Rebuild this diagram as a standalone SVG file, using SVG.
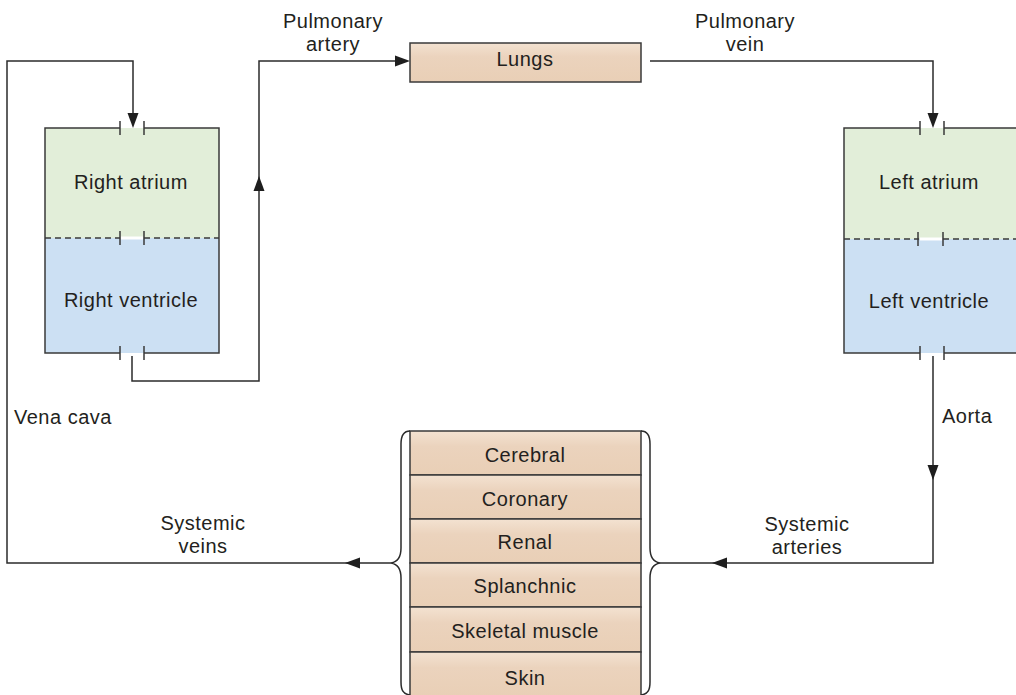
<svg xmlns="http://www.w3.org/2000/svg" xmlns:xlink="http://www.w3.org/1999/xlink" width="1016" height="695" viewBox="0 0 1016 695">
<style>
text{font-family:"Liberation Sans",Arial,"DejaVu Sans",sans-serif;font-size:20px;fill:#231f20;letter-spacing:0.5px}
.c{text-anchor:middle}
.ln{fill:none;stroke:#2b2b2b;stroke-width:1.5}
.bx{stroke:#3a3a3a;stroke-width:1.5}
.tk{stroke:#3a3a3a;stroke-width:1.5}
.ah{fill:#1e1e1e}
.dash{stroke:#3a3a3a;stroke-width:1.3;stroke-dasharray:6 4;fill:none}
</style>
<defs>
<linearGradient id="peach" x1="0" y1="0" x2="0" y2="1">
<stop offset="0" stop-color="#f3e2d1"/>
<stop offset="0.35" stop-color="#ebd3bd"/>
<stop offset="1" stop-color="#e9cfb6"/>
</linearGradient>
<path id="ah" d="M0,0 L-15,-5.5 L-15,5.5 Z"/>
</defs>
<rect width="1016" height="695" fill="#ffffff"/>

<g id="connectors">
<path class="ln" d="M391,563 H7 V61 H133 V116"/>
<path class="ln" d="M132,356 V381 H259 V61 H398"/>
<path class="ln" d="M650,61 H933 V116"/>
<path class="ln" d="M933,356 V563 H660"/>
<use href="#ah" class="ah" transform="translate(133,128) rotate(90)"/>
<use href="#ah" class="ah" transform="translate(259,176) rotate(-90)"/>
<use href="#ah" class="ah" transform="translate(410,61)"/>
<use href="#ah" class="ah" transform="translate(933,128) rotate(90)"/>
<use href="#ah" class="ah" transform="translate(933,480) rotate(90)"/>
<use href="#ah" class="ah" transform="translate(712,563) rotate(180)"/>
<use href="#ah" class="ah" transform="translate(345,563) rotate(180)"/>
</g>

<g id="right-heart">
<rect x="45" y="128" width="174" height="110" fill="#e2eed9"/>
<rect x="45" y="238" width="174" height="115" fill="#cce0f3"/>
<path class="bx" fill="none" d="M120,128 H45 V353 H120 M144,353 H219 V128 H144"/>
<path class="dash" d="M45,238 H120 M144,238 H219"/>
<line x1="121" y1="238" x2="143" y2="238" stroke="#ffffff" stroke-width="3"/>
<path class="tk" d="M120,121 V135 M144,121 V135 M120,231 V245 M144,231 V245 M120,346 V360 M144,346 V360"/>
<text class="c" x="131" y="189">Right atrium</text>
<text class="c" x="131" y="307">Right ventricle</text>
</g>

<g id="left-heart">
<rect x="844" y="128" width="174" height="111" fill="#e2eed9"/>
<rect x="844" y="239" width="174" height="114" fill="#cce0f3"/>
<path class="bx" fill="none" d="M920,128 H844 V353 H920 M944,353 H1018 M944,128 H1018"/>
<path class="dash" d="M844,239 H919 M943,239 H1018"/>
<line x1="920" y1="239" x2="942" y2="239" stroke="#ffffff" stroke-width="3"/>
<path class="tk" d="M920,121 V135 M944,121 V135 M918,232 V246 M943,232 V246 M920,346 V360 M944,346 V360"/>
<text class="c" x="929" y="189">Left atrium</text>
<text class="c" x="929" y="308">Left ventricle</text>
</g>

<g id="lungs">
<rect class="bx" x="410" y="43" width="231" height="39" fill="url(#peach)"/>
<text class="c" x="525" y="66">Lungs</text>
</g>

<g id="organs">
<rect class="bx" x="410" y="431" width="231" height="44" fill="url(#peach)"/>
<rect class="bx" x="410" y="475" width="231" height="44" fill="url(#peach)"/>
<rect class="bx" x="410" y="519" width="231" height="44" fill="url(#peach)"/>
<rect class="bx" x="410" y="563" width="231" height="44" fill="url(#peach)"/>
<rect class="bx" x="410" y="607" width="231" height="45" fill="url(#peach)"/>
<rect class="bx" x="410" y="652" width="231" height="45" fill="url(#peach)"/>
<text class="c" x="525" y="462">Cerebral</text>
<text class="c" x="525" y="506">Coronary</text>
<text class="c" x="525" y="549">Renal</text>
<text class="c" x="525" y="593">Splanchnic</text>
<text class="c" x="525" y="638">Skeletal muscle</text>
<text class="c" x="525" y="685">Skin</text>
</g>

<g id="braces" fill="none" stroke="#2b2b2b" stroke-width="1.5">
<path d="M410,431 C403,431 401,436 401,444 V548 C401,558 397,562 391,563 C397,564 401,568 401,578 V682 C401,690 403,694 410,695"/>
<path d="M641,431 C648,431 650,436 650,444 V548 C650,558 654,562 660,563 C654,564 650,568 650,578 V682 C650,690 648,694 641,695"/>
</g>

<g id="labels">
<text class="c" x="333" y="28">Pulmonary</text>
<text class="c" x="333" y="51">artery</text>
<text class="c" x="745" y="28">Pulmonary</text>
<text class="c" x="745" y="51">vein</text>
<text x="14" y="424">Vena cava</text>
<text x="942" y="423">Aorta</text>
<text class="c" x="203" y="530">Systemic</text>
<text class="c" x="203" y="553">veins</text>
<text class="c" x="807" y="531">Systemic</text>
<text class="c" x="807" y="554">arteries</text>
</g>
</svg>
